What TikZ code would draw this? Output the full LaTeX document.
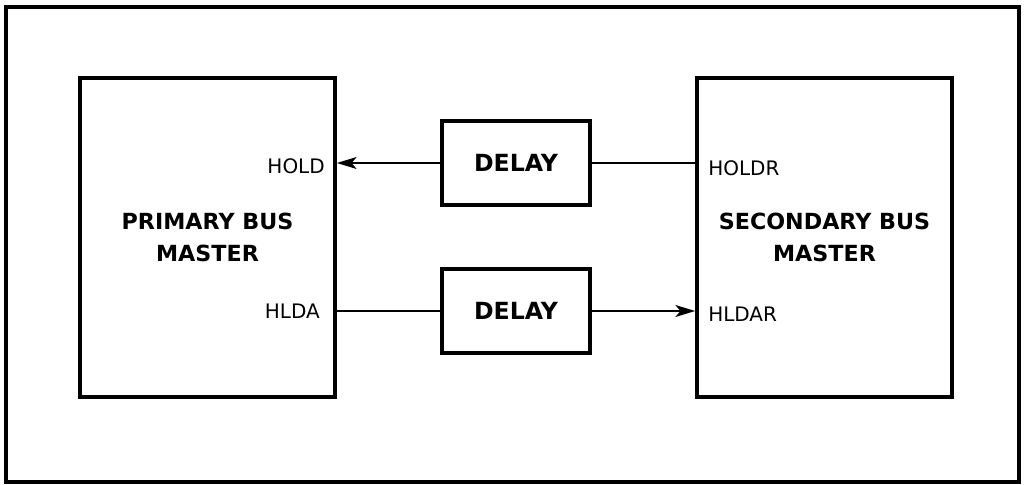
\documentclass[tikz,border=0pt]{standalone}
\usepackage{fontspec}
\setmainfont{DejaVu Sans}
\usetikzlibrary{arrows.meta}

\begin{document}
\begin{tikzpicture}[x=0.025cm,y=-0.025cm,
		master/.style={draw,line width=2.6pt,minimum width=6.375cm,minimum height=7.975cm,align=center,font=\fontsize{15.8}{22.8}\selectfont\bfseries},
		delaybox/.style={draw,line width=2.4pt,minimum width=3.7cm,minimum height=2.1cm,font=\fontsize{16.8}{20}\selectfont\bfseries},
		pin/.style={inner sep=0pt,font=\fontsize{14.2}{16}\selectfont},
		wire/.style={line width=1.3pt},
		tip/.style={-{Stealth[length=14pt,width=8.5pt,inset=3.5pt]}}]
		\useasboundingbox (0,0) rectangle (1029,485);
		\draw[line width=2.4pt] (6,7) rectangle (1019,482);

		% the two bus masters
		\node[master] (primary) at (207.5,237.5) {PRIMARY BUS\\MASTER};
		\node[master] (secondary) at (824.5,237.5) {SECONDARY BUS\\MASTER};

		% delay elements between them
		\node[delaybox] (dhold) at (516,163) {DELAY};
		\node[delaybox] (dhlda) at (516,311) {DELAY};

		% pin names
		\node[pin,anchor=east] (hold) at (325,166) {HOLD};
		\node[pin,anchor=east] (hlda) at (320,311) {HLDA};
		\node[pin,anchor=west] (holdr) at (708,168) {HOLDR};
		\node[pin,anchor=west] (hldar) at (708,314) {HLDAR};

		\draw[wire] (dhold.east) -- (dhold.east -| secondary.west);
		\draw[wire,tip] (dhold.west) -- (dhold.west -| primary.east);
		\draw[wire] (dhlda.west -| primary.east) -- (dhlda.west);
		\draw[wire,tip] (dhlda.east) -- (dhlda.east -| secondary.west);
	\end{tikzpicture}
\end{document}
